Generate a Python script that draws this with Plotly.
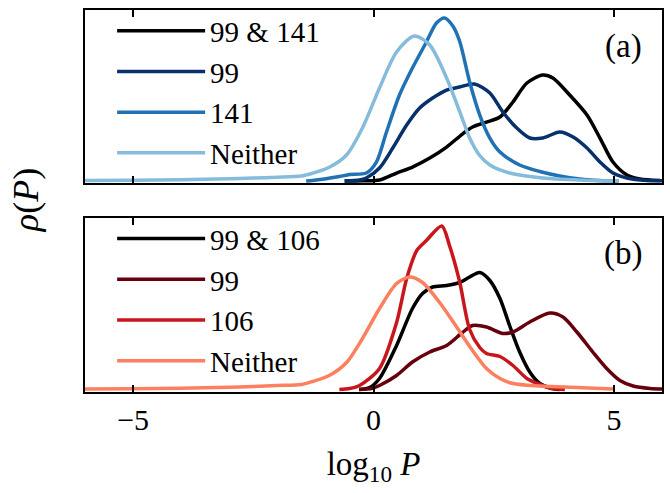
import plotly.graph_objects as go
from plotly.subplots import make_subplots

# ---- Panel (a) data: log10 P vs density ----
a_both_x = [-0.6, -0.23, 0.125, 0.48, 0.81, 1.17, 1.52, 1.85, 2.06, 2.35, 2.63, 2.9, 3.19, 3.52, 3.73, 4.08, 4.44, 4.71, 4.98, 5.27, 5.54, 5.96]
a_both_y = [0, 0.001, 0.004, 0.032, 0.056, 0.092, 0.136, 0.188, 0.216, 0.236, 0.256, 0.316, 0.392, 0.424, 0.412, 0.344, 0.264, 0.172, 0.076, 0.024, 0.008, 0.002]

a_99_x = [-0.6, -0.29, -0.15, 0.125, 0.4, 0.69, 0.96, 1.23, 1.52, 1.79, 2.1, 2.42, 2.69, 2.98, 3.25, 3.52, 3.875, 4.15, 4.44, 4.71, 4.98, 5.27, 5.69, 6.0]
a_99_y = [0, 0.004, 0.012, 0.052, 0.132, 0.224, 0.292, 0.332, 0.364, 0.376, 0.388, 0.352, 0.276, 0.212, 0.172, 0.172, 0.196, 0.176, 0.132, 0.076, 0.032, 0.012, 0.002, 0.001]

a_141_x = [-1.4, -1.27, -0.71, -0.5, -0.15, 0.06, 0.27, 0.54, 0.81, 1.1, 1.31, 1.48, 1.65, 1.79, 2.0, 2.21, 2.42, 2.63, 3.04, 3.46, 3.875, 4.29, 4.7, 5.1]
a_141_y = [0, 0.002, 0.018, 0.026, 0.032, 0.076, 0.196, 0.344, 0.452, 0.556, 0.632, 0.652, 0.620, 0.560, 0.396, 0.264, 0.172, 0.116, 0.064, 0.038, 0.020, 0.008, 0.002, 0]

a_nei_x = [-6.0, -5.0, -4.0, -3.0, -2.5, -2.0, -1.5, -1.27, -0.92, -0.56, -0.23, 0.125, 0.48, 0.85, 1.17, 1.52, 1.85, 2.0, 2.2, 2.42, 2.83, 3.52, 4.56, 5.1]
a_nei_y = [0.002, 0.003, 0.005, 0.009, 0.012, 0.015, 0.020, 0.031, 0.055, 0.104, 0.212, 0.372, 0.516, 0.580, 0.544, 0.412, 0.248, 0.172, 0.104, 0.064, 0.032, 0.012, 0.002, 0.0]

# ---- Panel (b) data ----
b_both_x = [-0.3, -0.08, 0.125, 0.48, 0.81, 1.02, 1.23, 1.52, 1.79, 2.0, 2.21, 2.42, 2.63, 2.83, 3.04, 3.25, 3.46, 3.67, 3.875]
b_both_y = [0, 0.008, 0.044, 0.176, 0.324, 0.384, 0.410, 0.416, 0.428, 0.450, 0.468, 0.436, 0.364, 0.256, 0.150, 0.070, 0.024, 0.006, 0]

b_99_x = [-0.3, -0.04, 0.125, 0.48, 0.81, 1.17, 1.52, 1.85, 2.06, 2.35, 2.69, 2.9, 3.25, 3.67, 3.94, 4.23, 4.56, 4.85, 5.125, 5.4, 5.75, 6.0]
b_99_y = [0, 0.004, 0.016, 0.056, 0.110, 0.150, 0.176, 0.228, 0.256, 0.250, 0.224, 0.230, 0.270, 0.306, 0.290, 0.230, 0.150, 0.084, 0.036, 0.014, 0.004, 0.002]

b_106_x = [-0.71, -0.5, -0.29, 0.125, 0.48, 0.69, 0.9, 1.1, 1.42, 1.58, 1.79, 2.0, 2.21, 2.35, 2.63, 2.9, 3.19, 3.46, 3.73, 3.98]
b_106_y = [0, 0.004, 0.016, 0.084, 0.268, 0.444, 0.556, 0.596, 0.654, 0.576, 0.432, 0.240, 0.168, 0.144, 0.132, 0.096, 0.044, 0.020, 0.004, 0]

b_nei_x = [-6.0, -5.0, -4.0, -3.0, -2.5, -2.0, -1.5, -1.27, -0.92, -0.56, -0.23, 0.125, 0.48, 0.75, 1.02, 1.375, 1.75, 2.06, 2.35, 2.63, 2.9, 3.46, 4.23, 4.98]
b_nei_y = [0.002, 0.003, 0.005, 0.009, 0.012, 0.016, 0.020, 0.032, 0.056, 0.108, 0.204, 0.324, 0.424, 0.450, 0.428, 0.348, 0.244, 0.156, 0.084, 0.044, 0.024, 0.014, 0.008, 0.002]

a_names = ["99 &amp; 141", "99", "141", "Neither"]
b_names = ["99 &amp; 106", "99", "106", "Neither"]
a_colors = ["#000000", "#08306b", "#2171b5", "#85bcdc"]
b_colors = ["#000000", "#67000d", "#c8171c", "#fc7f5f"]
x_ticks = [-5, 0, 5]
x_tick_labels = ["\u22125", "0", "5"]

FONT = "Liberation Serif"

fig = make_subplots(rows=2, cols=1, shared_xaxes=False, vertical_spacing=0.09)

a_series = [(a_both_x, a_both_y), (a_99_x, a_99_y), (a_141_x, a_141_y), (a_nei_x, a_nei_y)]
b_series = [(b_both_x, b_both_y), (b_99_x, b_99_y), (b_106_x, b_106_y), (b_nei_x, b_nei_y)]

for (xs, ys), name, col in zip(a_series, a_names, a_colors):
    fig.add_trace(go.Scatter(x=xs, y=ys, mode="lines", name=name,
                             line=dict(color=col, width=3.5, shape="spline", smoothing=0.8),
                             legend="legend"), row=1, col=1)
for (xs, ys), name, col in zip(b_series, b_names, b_colors):
    fig.add_trace(go.Scatter(x=xs, y=ys, mode="lines", name=name,
                             line=dict(color=col, width=3.5, shape="spline", smoothing=0.8),
                             legend="legend2"), row=2, col=1)

fig.update_xaxes(range=[-6, 6], tickvals=x_ticks, ticktext=x_tick_labels,
                 ticks="inside", ticklen=7, tickwidth=2, tickcolor="black",
                 showline=True, linewidth=2, linecolor="black", mirror="allticks",
                 showgrid=False, zeroline=False, automargin=False)
fig.update_xaxes(showticklabels=False, row=1, col=1)
fig.update_xaxes(showticklabels=True, row=2, col=1,
                 tickfont=dict(family=FONT, size=30, color="black"),
                 ticklabelstandoff=0,
                 title=dict(text="log<sub>10</sub> <i>P</i>", font=dict(family=FONT, size=33, color="black"),
                            standoff=17))
fig.update_yaxes(showticklabels=False, ticks="", showline=True, linewidth=2, linecolor="black",
                 mirror=True, showgrid=False, zeroline=False, automargin=False)
fig.update_yaxes(range=[-0.008, 0.684], domain=[0.547, 1.0], row=1, col=1)
fig.update_yaxes(range=[-0.010, 0.686], domain=[0.0, 0.4555], row=2, col=1)

legend_common = dict(font=dict(family=FONT, size=29, color="black"), bgcolor="rgba(0,0,0,0)",
                     xanchor="left", yanchor="top", itemwidth=88, tracegroupgap=0)
fig.update_layout(
    width=670, height=493,
    margin=dict(l=85, r=8, t=10, b=101, autoexpand=False),
    plot_bgcolor="white", paper_bgcolor="white",
    legend=dict(x=0.047, y=1.012, **legend_common),
    legend2=dict(x=0.047, y=0.468, **legend_common),
    annotations=[
        dict(text="(a)", xref="x domain", yref="y domain", x=0.968, y=0.79,
             xanchor="right", yanchor="middle", showarrow=False,
             font=dict(family=FONT, size=33, color="black")),
        dict(text="(b)", xref="x2 domain", yref="y2 domain", x=0.968, y=0.795,
             xanchor="right", yanchor="middle", showarrow=False,
             font=dict(family=FONT, size=33, color="black")),
        dict(text="<i>\u03c1</i>(<i>P</i>)", xref="paper", yref="paper", x=-0.102, y=0.5026,
             xanchor="center", yanchor="middle", textangle=-90, showarrow=False,
             font=dict(family=FONT, size=36, color="black")),
    ],
)

fig.write_html("out.html", config={"displayModeBar": False},
               post_script="document.body.style.margin='0';document.body.style.padding='0';document.body.style.overflow='hidden';")
